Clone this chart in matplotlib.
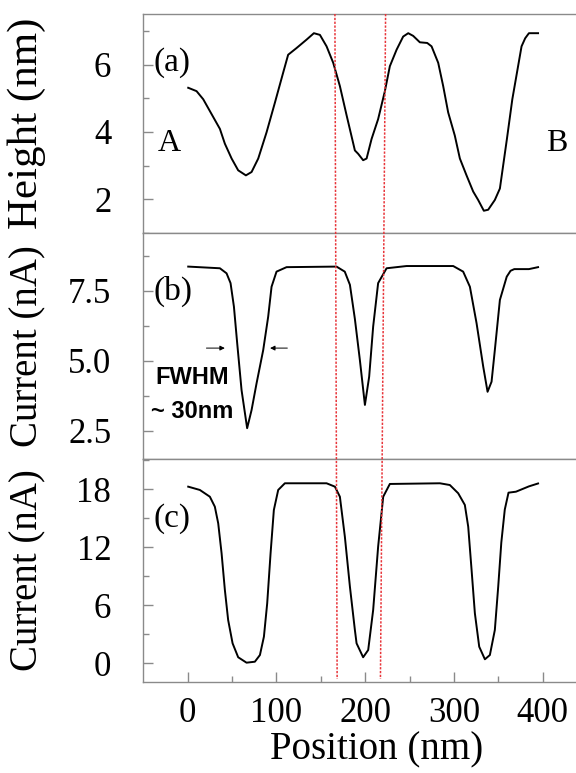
import matplotlib
matplotlib.use("Agg")
import matplotlib.pyplot as plt
from matplotlib.transforms import blended_transform_factory

#########################################################
# DATA
#########################################################

height_x = [0.6, 10, 17.5, 26.9, 36.3, 41.9, 49.5, 56.9, 65.6, 72, 79.5, 88.9,
            98.3, 107.6, 113.2, 122.7, 134, 142.2, 149, 156.5, 164, 171.5,
            179, 188.4, 192.1, 197.7, 201.6, 207.2, 214.6, 222.2, 227.8, 235.4,
            242.8, 248.5, 254.1, 261.6, 269.9, 274.8, 282.3, 287.9, 293.5, 301,
            306.7, 314.2, 321.7, 327.3, 333.7, 338.6, 346.1, 351.8, 359.7,
            365.8, 376.2, 380.3, 384.5, 394.8]
height_nm = [5.31, 5.21, 4.97, 4.53, 4.09, 3.65, 3.21, 2.86, 2.71, 2.81, 3.21, 3.99,
             4.87, 5.76, 6.29, 6.49, 6.74, 6.93, 6.88, 6.54, 6.05, 5.36,
             4.50, 3.45, 3.35, 3.16, 3.21, 3.79, 4.38, 5.21, 5.95, 6.44,
             6.83, 6.93, 6.85, 6.66, 6.64, 6.54, 6.05, 5.36, 4.58, 3.89,
             3.21, 2.71, 2.23, 1.98, 1.66, 1.69, 1.98, 2.32, 3.79,
             4.97, 6.54, 6.78, 6.93, 6.93]

current_b_x = [0.6, 36.3, 43.8, 48.3, 52.1, 55.8, 60.7, 67, 72, 77.6, 85.1, 90.7,
               94.5, 100.1, 111.4, 167.7, 177, 182.8, 188.4, 194, 199.7, 204.5,
               209, 214.6, 224.1, 246.6, 299.2, 310.4, 318, 325.5, 333, 337.9,
               342.4, 346.1, 351.8, 359.5, 363.8, 368, 384.5, 394.8]
current_b = [8.37, 8.31, 8.13, 7.78, 6.94, 5.63, 3.96, 2.60, 3.25, 4.20, 5.39, 6.58,
             7.65, 8.19, 8.35, 8.37, 8.19, 7.72, 6.50, 5.04, 3.43, 4.44,
             6.23, 7.78, 8.31, 8.39, 8.39, 8.19, 7.65, 6.35, 4.80, 3.90,
             4.26, 5.39, 7.18, 8.01, 8.22, 8.28, 8.28, 8.35]

current_c_x = [0.6, 13.7, 25, 30.6, 34.4, 38.2, 41.9, 45.6, 50.6, 56.9, 66.3, 75.7,
               81.4, 85.9, 89.6, 93.4, 97.1, 102, 109.5, 156.5, 165.9, 171.5,
               177.1, 182.8, 188.4, 190.3, 197.7, 203.4, 209, 214.6, 220.3, 227.8,
               284.2, 295.4, 304.8, 312.3, 316.1, 319.9, 323.6, 328.5, 334.9,
               340.5, 346.1, 349.9, 353.4, 357.3, 361.5, 369.9, 384.5, 394.8]
current_c = [18.27, 17.93, 17.23, 16.2, 14.48, 11.38, 7.59, 4.48, 2.07, 0.63, 0.07, 0.17,
             0.86, 2.76, 6.21, 11.38, 15.86, 17.93, 18.62, 18.62, 18.27, 17.23,
             13.1, 7.93, 3.45, 2.07, 0.63, 1.38, 5.52, 12.07, 17.23, 18.55,
             18.62, 18.44, 17.59, 16.38, 14.13, 9.65, 5.18, 1.72, 0.42,
             0.86, 3.45, 7.93, 12.5, 15.9, 17.65, 17.75, 18.3, 18.6]

# red guide lines: x at top of panel (a) and at bottom of panel (c)
guide_top_x = [165.9, 223.0]
guide_bottom_x = [168.4, 217.2]

y_ticks_a = [2, 4, 6]
y_ticks_b = [2.5, 5.0, 7.5]
y_ticks_c = [0, 6, 12, 18]
x_ticks = [0, 100, 200, 300, 400]

#########################################################
# FIGURE
#########################################################

plt.rcParams["font.family"] = ["Liberation Serif", "DejaVu Serif"]

fig = plt.figure(figsize=(5.76, 7.73), dpi=100)

# axes run past the right edge of the picture, like the cropped original
ax_a = fig.add_axes([0.2488, 0.6986, 0.8089, 0.2833])
ax_b = fig.add_axes([0.2488, 0.4062, 0.8089, 0.2924])
ax_c = fig.add_axes([0.2488, 0.1177, 0.8089, 0.2885])

spine_color = "#8a8a8a"

for ax in (ax_a, ax_b, ax_c):
    ax.set_xlim(-50, 475)
    for side in ax.spines:
        ax.spines[side].set_color(spine_color)
        ax.spines[side].set_linewidth(1.0)
    ax.tick_params(axis="y", which="both", direction="in", color=spine_color,
                   labelsize=25, pad=23)
    ax.tick_params(axis="y", which="major", length=7, width=1)
    ax.tick_params(axis="y", which="minor", length=4, width=1)

ax_a.plot(height_x, height_nm, color="black", lw=1.4)
ax_b.plot(current_b_x, current_b, color="black", lw=1.4)
ax_c.plot(current_c_x, current_c, color="black", lw=1.4)

#########################################################
# AXES
#########################################################

ax_a.set_ylim(1.06, 7.5)
ax_a.set_yticks(y_ticks_a)
ax_a.set_yticks([1, 3, 5, 7], minor=True)
ax_a.set_ylabel("Height (nm)", fontsize=31)

ax_b.set_ylim(1.5, 9.57)
ax_b.set_yticks(y_ticks_b)
ax_b.set_yticklabels(["2.5", "5.0", "7.5"])
ax_b.set_yticks([3.75, 6.25, 8.75], minor=True)
ax_b.set_ylabel("Current (nA)", fontsize=28)

ax_c.set_ylim(-1.93, 21.13)
ax_c.set_yticks(y_ticks_c)
ax_c.set_yticks([3, 9, 15, 21], minor=True)
ax_c.set_ylabel("Current (nA)", fontsize=28)

for ax in (ax_a, ax_b):
    ax.set_xticks([])
    ax.set_xticks([], minor=True)

ax_c.set_xticks(x_ticks)
ax_c.set_xticks([50, 150, 250, 350], minor=True)
ax_c.tick_params(axis="x", which="both", direction="in", color=spine_color,
                 labelsize=25, pad=11)
ax_c.tick_params(axis="x", which="major", length=7, width=1)
ax_c.tick_params(axis="x", which="minor", length=4, width=1)
ax_c.set_xlabel("Position (nm)", fontsize=28, labelpad=1)

for ax in (ax_a, ax_b, ax_c):
    ax.yaxis.set_label_coords(-0.208, 0.5)

#########################################################
# ANNOTATIONS
#########################################################

ax_a.text(-38, 6.05, "(a)", fontsize=24, va="center", ha="left")
ax_a.text(-34, 3.65, "A", fontsize=23, va="center", ha="left")
ax_a.text(404, 3.65, "B", fontsize=23, va="center", ha="left")

ax_b.text(-38, 7.5, "(b)", fontsize=24, va="center", ha="left")
ax_b.text(5.5, 4.4, "FWHM", fontsize=17, fontweight="bold",
          family=["Liberation Sans", "DejaVu Sans"], ha="center", va="center")
ax_b.text(5.5, 3.2, "~ 30nm", fontsize=17, fontweight="bold",
          family=["Liberation Sans", "DejaVu Sans"], ha="center", va="center")
ax_b.annotate("", xy=(45, 5.46), xytext=(18, 5.46),
              arrowprops=dict(arrowstyle="-|>", color="black", lw=0.7,
                              mutation_scale=7))
ax_b.annotate("", xy=(89.7, 5.46), xytext=(115.4, 5.46),
              arrowprops=dict(arrowstyle="-|>", color="black", lw=0.7,
                              mutation_scale=7))

ax_c.text(-38, 15.0, "(c)", fontsize=24, va="center", ha="left")

# dashed red guides running across all three panels
trans = blended_transform_factory(ax_c.transData, fig.transFigure)
top_y = 1 - 14 / 773
bottom_y = 1 - 679 / 773
for x_top, x_bottom in zip(guide_top_x, guide_bottom_x):
    ax_c.plot([x_top, x_bottom], [top_y, bottom_y], transform=trans,
              color="#e8353a", lw=1.1, ls=(0, (1.5, 1)), clip_on=False,
              zorder=5)

fig.savefig("out.png", dpi=100)
